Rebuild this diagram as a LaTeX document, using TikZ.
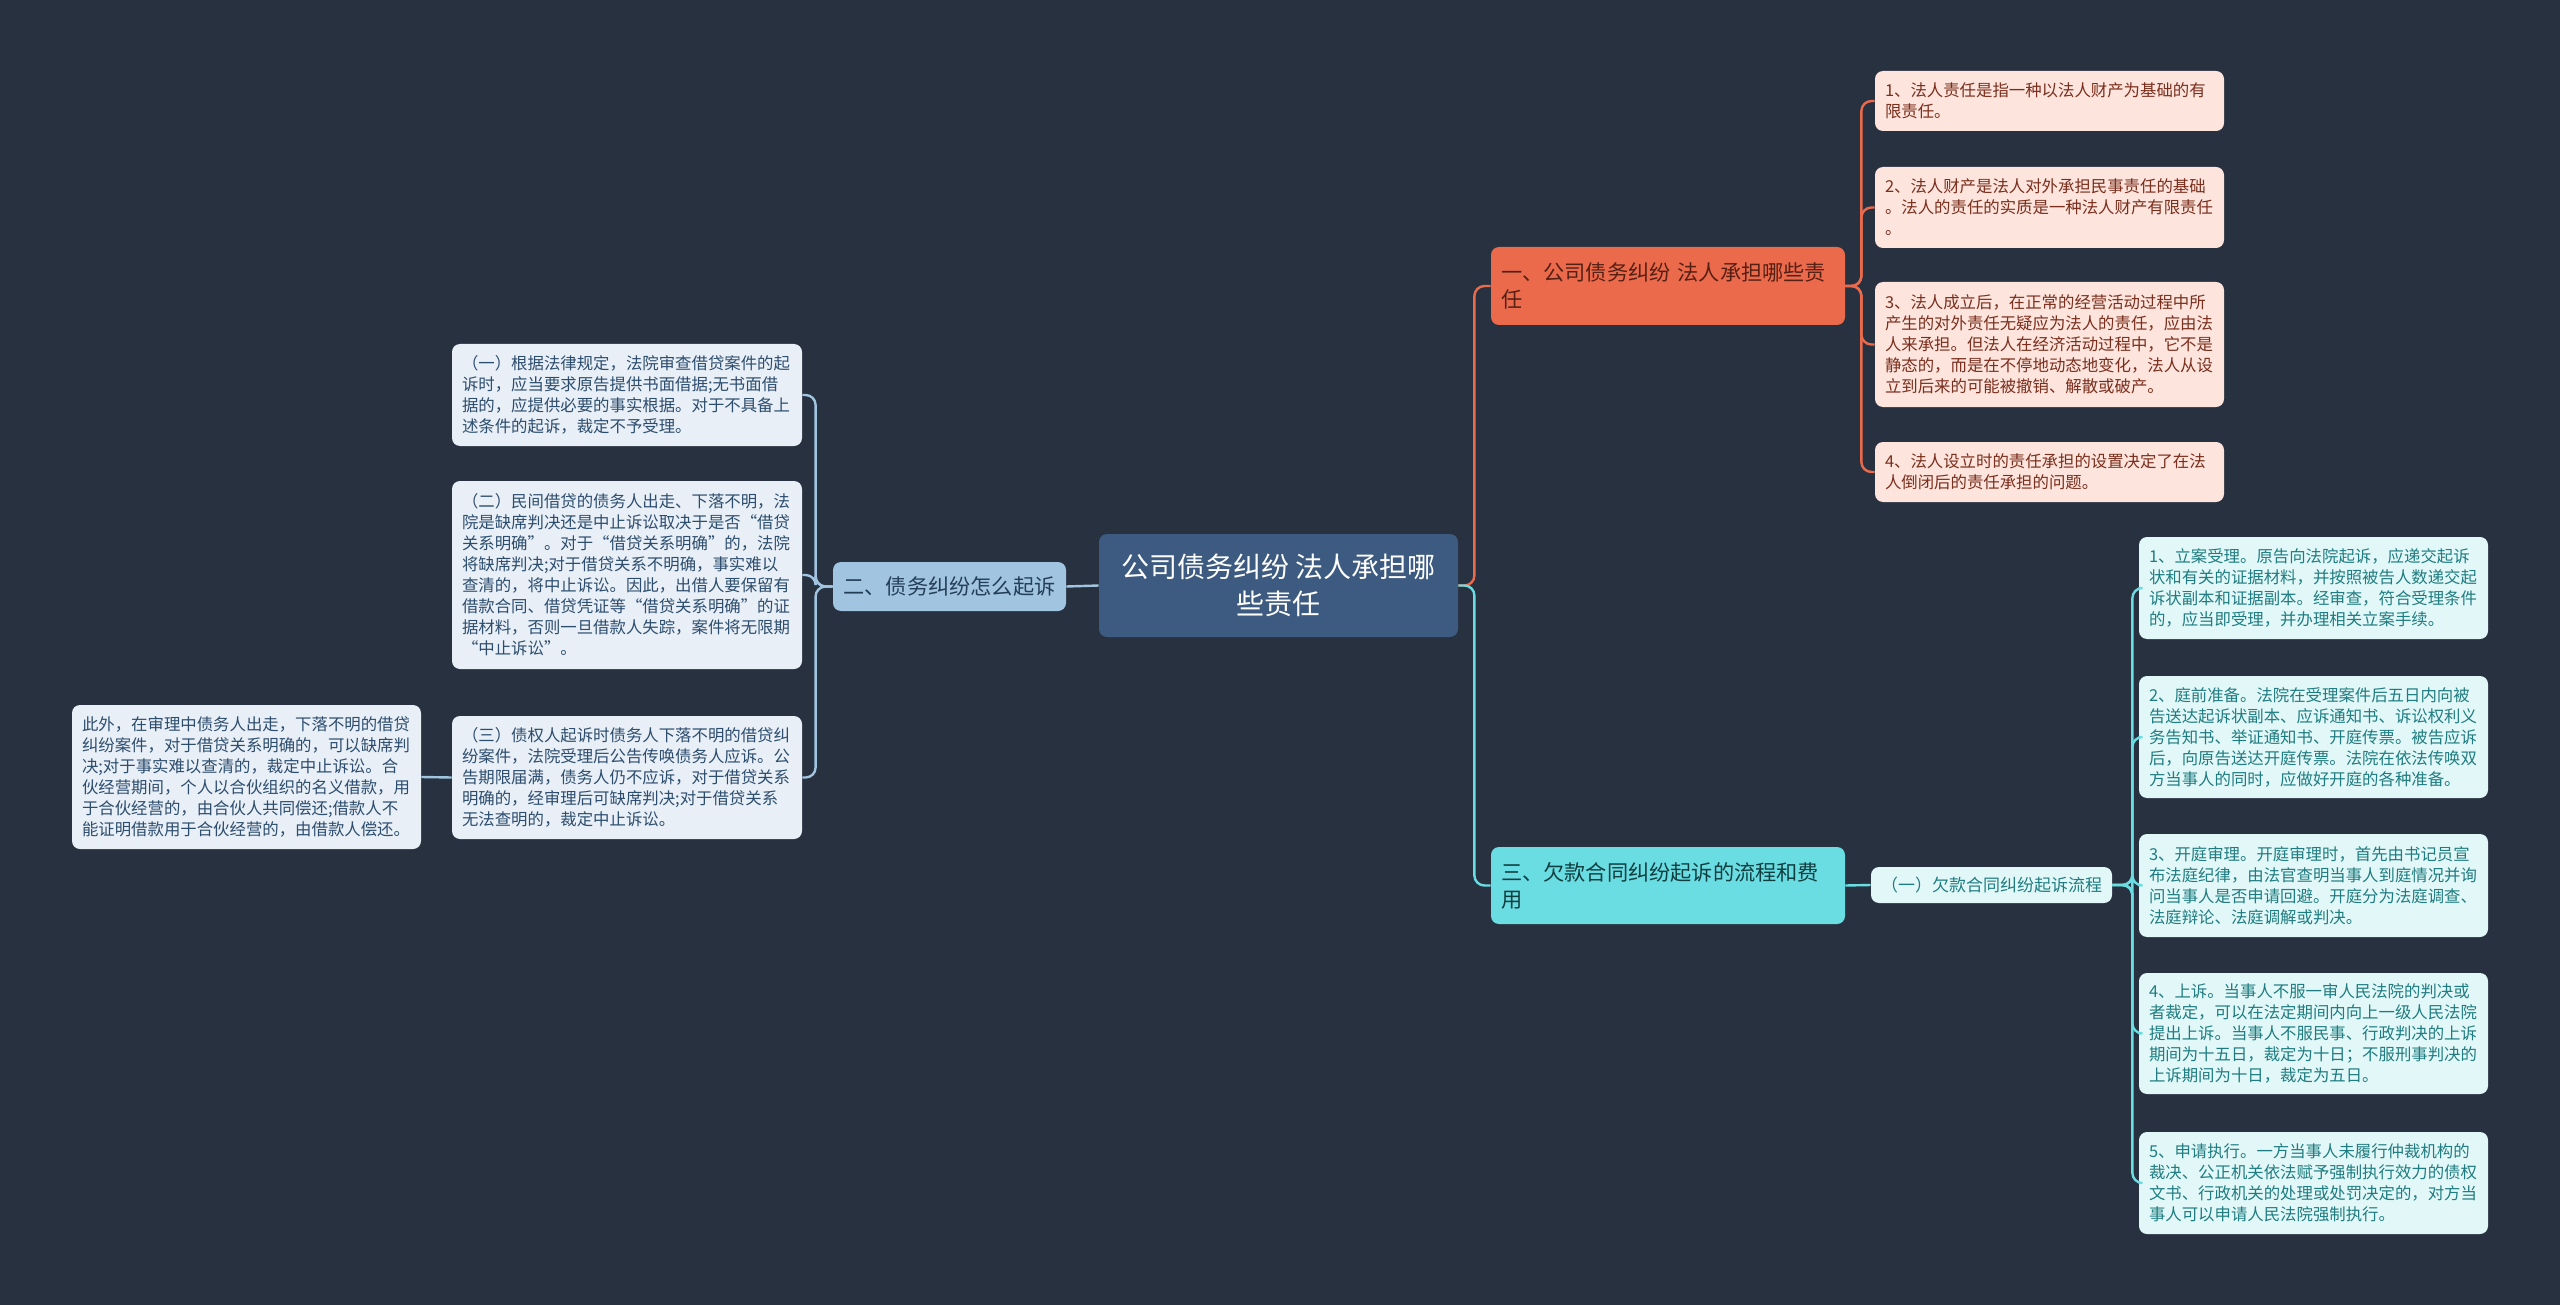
\documentclass[tikz,border=0pt]{standalone}
\usepackage{fontspec}
\setmainfont{Noto Sans CJK SC}
\definecolor{bgc}{HTML}{283140}
\definecolor{rootc}{HTML}{3D5A80}
\definecolor{blueb}{HTML}{A1C4E0}
\definecolor{bluel}{HTML}{E8EFF6}
\definecolor{bluet}{HTML}{2D4D6E}
\definecolor{orab}{HTML}{EC6A4C}
\definecolor{oral}{HTML}{FDE4DC}
\definecolor{orat}{HTML}{7A2E1D}
\definecolor{cyab}{HTML}{6ADDE3}
\definecolor{cyal}{HTML}{E2F8F8}
\definecolor{cyat}{HTML}{1F7C80}
\tikzset{
  boxbase/.style={rounded corners=4pt, inner ysep=0pt, inner xsep=5pt},
  leafbox/.style={boxbase, align=left, text width=164.5pt, minimum width=174.5pt,
    font=\fontsize{8.2}{10.5}\selectfont},
  leafL/.style={leafbox, fill=bluel, text=bluet},
  leafR/.style={leafbox, fill=oral, text=orat},
  leafC/.style={leafbox, fill=cyal, text=cyat},
  brbox/.style={boxbase, align=left, text width=167pt, minimum width=177pt,
    font=\fontsize{10.6}{13.5}\selectfont},
  rootbox/.style={boxbase, fill=rootc, text=white, align=center, minimum width=179.5pt,
    minimum height=51.5pt, font=\fontsize{14}{18.5}\selectfont},
  lnL/.style={draw=blueb, line width=1.2pt, rounded corners=5pt},
  lnO/.style={draw=orab, line width=1.2pt, rounded corners=5pt},
  lnC/.style={draw=cyab, line width=1.2pt, rounded corners=5pt}
}
\begin{document}
\begin{tikzpicture}[x=0.5pt, y=-0.5pt]
\fill[bgc] (0,0) rectangle (2560,1305);

% root
\node[rootbox] (c) at (1278.5,585.5) {公司债务纠纷 法人承担哪\\些责任};

% left branch
\node[boxbase, fill=blueb, text=bluet!80!black, minimum width=116.5pt, minimum height=24.5pt,
  font=\fontsize{10.6}{13.5}\selectfont] (b2) at (949.5,586.5) {二、债务纠纷怎么起诉};

\node[leafL, minimum width=175pt, text width=165pt, minimum height=51pt] (l1) at (627,395)
 {（一）根据法律规定，法院审查借贷案件的起\\诉时，应当要求原告提供书面借据;无书面借\\据的，应提供必要的事实根据。对于不具备上\\述条件的起诉，裁定不予受理。};
\node[leafL, minimum width=175pt, text width=165pt, minimum height=94pt] (l2) at (627,575)
 {（二）民间借贷的债务人出走、下落不明，法\\院是缺席判决还是中止诉讼取决于是否“借贷\\关系明确”。对于“借贷关系明确”的，法院\\将缺席判决;对于借贷关系不明确，事实难以\\查清的，将中止诉讼。因此，出借人要保留有\\借款合同、借贷凭证等“借贷关系明确”的证\\据材料，否则一旦借款人失踪，案件将无限期\\“中止诉讼”。};
\node[leafL, minimum width=175pt, text width=165pt, minimum height=61.5pt] (l3) at (627,777.5)
 {（三）债权人起诉时债务人下落不明的借贷纠\\纷案件，法院受理后公告传唤债务人应诉。公\\告期限届满，债务人仍不应诉，对于借贷关系\\明确的，经审理后可缺席判决;对于借贷关系\\无法查明的，裁定中止诉讼。};
\node[leafL, minimum height=72pt] (l4) at (246.5,777)
 {此外，在审理中债务人出走，下落不明的借贷\\纠纷案件，对于借贷关系明确的，可以缺席判\\决;对于事实难以查清的，裁定中止诉讼。合\\伙经营期间，个人以合伙组织的名义借款，用\\于合伙经营的，由合伙人共同偿还;借款人不\\能证明借款用于合伙经营的，由借款人偿还。};

% right top branch
\node[brbox, fill=orab, text=orat!70!black, minimum height=39pt] (b1) at (1668,286)
 {一、公司债务纠纷 法人承担哪些责\\任};
\node[leafR, minimum height=30pt] (r1) at (2049.5,101)
 {1、法人责任是指一种以法人财产为基础的有\\限责任。};
\node[leafR, minimum height=40.5pt] (r2) at (2049.5,207.5)
 {2、法人财产是法人对外承担民事责任的基础\\。法人的责任的实质是一种法人财产有限责任\\。};
\node[leafR, minimum height=62.5pt] (r3) at (2049.5,344.5)
 {3、法人成立后，在正常的经营活动过程中所\\产生的对外责任无疑应为法人的责任，应由法\\人来承担。但法人在经济活动过程中，它不是\\静态的，而是在不停地动态地变化，法人从设\\立到后来的可能被撤销、解散或破产。};
\node[leafR, minimum height=30pt] (r4) at (2049.5,472)
 {4、法人设立时的责任承担的设置决定了在法\\人倒闭后的责任承担的问题。};

% right bottom branch
\node[brbox, fill=cyab, text=cyat!50!black, minimum height=38.5pt] (b3) at (1668,885.5)
 {三、欠款合同纠纷起诉的流程和费\\用};
\node[boxbase, fill=cyal, text=cyat, minimum width=115pt, minimum height=18pt,
  font=\fontsize{8.5}{10.5}\selectfont] (s) at (1991.5,885) {（一）欠款合同纠纷起诉流程};
\node[leafC, minimum height=51pt] (t1) at (2313.5,588)
 {1、立案受理。原告向法院起诉，应递交起诉\\状和有关的证据材料，并按照被告人数递交起\\诉状副本和证据副本。经审查，符合受理条件\\的，应当即受理，并办理相关立案手续。};
\node[leafC, minimum height=61pt] (t2) at (2313.5,737)
 {2、庭前准备。法院在受理案件后五日内向被\\告送达起诉状副本、应诉通知书、诉讼权利义\\务告知书、举证通知书、开庭传票。被告应诉\\后，向原告送达开庭传票。法院在依法传唤双\\方当事人的同时，应做好开庭的各种准备。};
\node[leafC, minimum height=51.5pt] (t3) at (2313.5,885.5)
 {3、开庭审理。开庭审理时，首先由书记员宣\\布法庭纪律，由法官查明当事人到庭情况并询\\问当事人是否申请回避。开庭分为法庭调查、\\法庭辩论、法庭调解或判决。};
\node[leafC, minimum height=60.5pt] (t4) at (2313.5,1033.5)
 {4、上诉。当事人不服一审人民法院的判决或\\者裁定，可以在法定期间内向上一级人民法院\\提出上诉。当事人不服民事、行政判决的上诉\\期间为十五日，裁定为十日；不服刑事判决的\\上诉期间为十日，裁定为五日。};
\node[leafC, minimum height=51pt] (t5) at (2313.5,1183)
 {5、申请执行。一方当事人未履行仲裁机构的\\裁决、公正机关依法赋予强制执行效力的债权\\文书、行政机关的处理或处罚决定的，对方当\\事人可以申请人民法院强制执行。};

% connectors
\draw[lnL] (c.west) -- (b2.east);
\foreach \q in {l1,l2,l3} \draw[lnL] (b2.west) -- ++(-17,0) |- (\q.east);
\draw[lnL] (l3.west) -- (l4.east);
\draw[lnO] (c.east) -- ++(16,0) |- (b1.west);
\draw[lnC] (c.east) -- ++(16,0) |- (b3.west);
\foreach \q in {r1,r2,r3,r4} \draw[lnO] (b1.east) -- ++(16,0) |- (\q.west);
\draw[lnC] (b3.east) -- (s.west);
\foreach \q in {t1,t2,t3,t4,t5} \draw[lnC] (s.east) -- ++(20,0) |- (\q.west);
\end{tikzpicture}
\end{document}
